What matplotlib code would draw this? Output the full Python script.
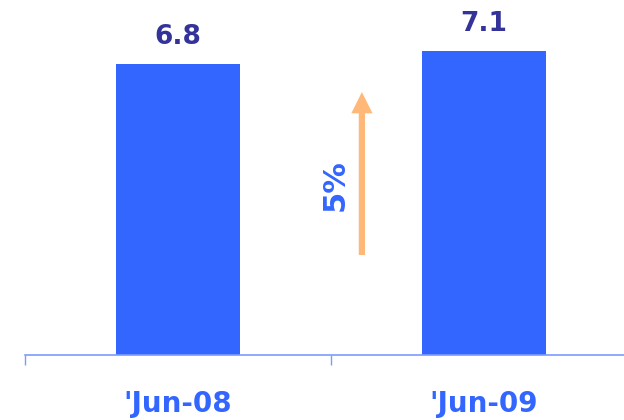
import matplotlib
matplotlib.use("Agg")
import matplotlib.pyplot as plt

categories = ["'Jun-08", "'Jun-09"]
values = [6.8, 7.1]
growth_label = "5%"

plt.rcParams['font.family'] = ['DejaVu Sans']

fig = plt.figure(figsize=(6.24, 4.2), dpi=100)
ax = fig.add_axes([25/624, 65/420, 612/624, 342/420])

x = list(range(len(categories)))
ax.bar(x, values, width=0.405, color='#3366FF', zorder=2)
for xi, v in zip(x, values):
    ax.text(xi, v + 0.33, f"{v:.1f}", ha='center', va='bottom',
            fontsize=19, fontweight='bold', color='#333399')

ax.set_xlim(-0.5, 1.5)
ax.set_ylim(0, 8)
ax.set_xticks(x)
ax.set_xticklabels(categories, fontsize=20, fontweight='bold', color='#3366FF')
ax.set_xticks([-0.5, 0.5, 1.5], minor=True)
ax.tick_params(axis='x', which='major', length=0, pad=25)
ax.tick_params(axis='x', which='minor', length=7.5, width=1, color='#7A9BFF', direction='out')
ax.set_yticks([])
for s in ['top', 'right', 'left']:
    ax.spines[s].set_visible(False)
ax.spines['bottom'].set_color('#7A9BFF')
ax.spines['bottom'].set_linewidth(1.2)

ax.annotate('', xy=(0.601, 6.15), xytext=(0.601, 2.34),
            arrowprops=dict(arrowstyle='-|>,head_width=0.4,head_length=0.8',
                            lw=4.5, color='#FFB877', shrinkA=0, shrinkB=0,
                            capstyle='butt', joinstyle='miter'))
ax.text(0.513, 3.97, growth_label, rotation=90, ha='center', va='center',
        fontsize=22, fontweight='bold', color='#3366FF')

fig.savefig('out.png', dpi=100)
